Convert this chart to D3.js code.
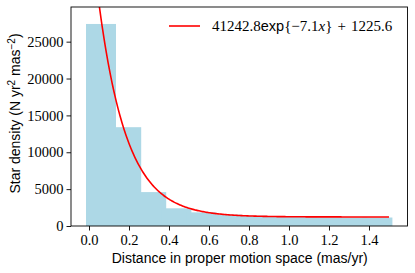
<!DOCTYPE html>
<html>
<head>
<meta charset="utf-8">
<script src="https://cdn.jsdelivr.net/npm/d3@7"></script>
<style>
  body { margin: 0; background: #fff; }
  .tick text { font-family: "Liberation Serif", serif; font-size: 14.5px; fill: #000; }
</style>
</head>
<body>
<div id="chart"></div>
<script>
// histogram bars (bin centre, height)
const binCenters = [0.06, 0.186, 0.311, 0.437, 0.562, 0.688, 0.814, 0.939, 1.065, 1.19, 1.316, 1.442];
const binHeights = [27400, 13400, 4600, 2400, 1850, 1550, 1400, 1300, 1250, 1200, 1150, 1150];
const binWidth = 0.15;

// fitted curve a*exp(b*x)+c, as given in the legend
const fitParams = [41242.8, -7.1, 1225.6];
const fitRange = [0, 1.5];

const xTicks = [0, 0.2, 0.4, 0.6, 0.8, 1.0, 1.2, 1.4];
const yTicks = [0, 5000, 10000, 15000, 20000, 25000];

const width = 415;
const height = 273;
const margin = { top: 7, right: 7.5, bottom: 47, left: 71 };

const x = d3.scaleLinear()
    .domain([-0.09, 1.5925])
    .range([margin.left, width - margin.right]);

const y = d3.scaleLinear()
    .domain([0, 29700])
    .range([height - margin.bottom, margin.top]);

const svg = d3.select("#chart").append("svg")
    .attr("width", width)
    .attr("height", height);

svg.append("defs").append("clipPath").attr("id", "clip")
    .append("rect")
    .attr("x", margin.left).attr("y", margin.top)
    .attr("width", width - margin.left - margin.right)
    .attr("height", height - margin.top - margin.bottom);

const bars = binCenters.map((c, i) => ({ c: c, h: binHeights[i] }));

svg.append("g")
    .attr("fill", "#add8e6")
    .selectAll("rect")
    .data(bars)
    .join("rect")
    .attr("x", d => x(d.c - binWidth / 2))
    .attr("width", d => x(d.c + binWidth / 2) - x(d.c - binWidth / 2))
    .attr("y", d => y(d.h))
    .attr("height", d => y(0) - y(d.h));

const fitX = d3.range(0, 301).map(i => fitRange[0] + (fitRange[1] - fitRange[0]) * i / 300);
const fitLine = d3.line()
    .x(d => x(d))
    .y(d => y(fitParams[0] * Math.exp(fitParams[1] * d) + fitParams[2]));

svg.append("path")
    .datum(fitX)
    .attr("clip-path", "url(#clip)")
    .attr("fill", "none")
    .attr("stroke", "red")
    .attr("stroke-width", 1.6)
    .attr("d", fitLine);

// axes
svg.append("g")
    .attr("transform", `translate(0,${height - margin.bottom})`)
    .call(d3.axisBottom(x).tickValues(xTicks).tickFormat(d3.format(".1f")).tickSize(4.5).tickPadding(4))
    .call(g => g.select(".domain").remove());

svg.append("g")
    .attr("transform", `translate(${margin.left},0)`)
    .call(d3.axisLeft(y).tickValues(yTicks).tickFormat(d3.format("d")).tickSize(4.5).tickPadding(3))
    .call(g => g.select(".domain").remove());

svg.selectAll(".tick line").attr("stroke", "#000").attr("stroke-width", 0.9);

svg.append("rect")
    .attr("x", margin.left).attr("y", margin.top)
    .attr("width", width - margin.left - margin.right)
    .attr("height", height - margin.top - margin.bottom)
    .attr("fill", "none")
    .attr("stroke", "#000")
    .attr("stroke-width", 0.9);

// axis labels
svg.append("text")
    .attr("x", (margin.left + width - margin.right) / 2 + 0.5)
    .attr("y", 263)
    .attr("text-anchor", "middle")
    .style("font-family", "Liberation Sans, sans-serif")
    .style("font-size", "14px")
    .text("Distance in proper motion space (mas/yr)");

const ylab = svg.append("text")
    .attr("transform", `translate(20,${(margin.top + height - margin.bottom) / 2 - 3}) rotate(-90)`)
    .attr("text-anchor", "middle")
    .style("font-family", "Liberation Sans, sans-serif")
    .style("font-size", "14px");
ylab.append("tspan").text("Star density (N yr");
ylab.append("tspan").attr("dy", -5).style("font-size", "10px").text("2");
ylab.append("tspan").attr("dy", 5).text(" mas");
ylab.append("tspan").attr("dy", -5).style("font-size", "10px").text("\u22122");
ylab.append("tspan").attr("dy", 5).text(")");

// legend
const lg = svg.append("g").attr("transform", "translate(169,26)");
lg.append("line")
    .attr("x1", 0).attr("x2", 31)
    .attr("stroke", "red").attr("stroke-width", 1.6);
const lt = lg.append("text")
    .attr("x", 43).attr("y", 5)
    .style("font-family", "Liberation Serif, serif")
    .style("font-size", "15px");
lt.append("tspan").text(fitParams[0].toFixed(1));
lt.append("tspan").style("font-family", "Liberation Sans, sans-serif").style("font-size", "14.5px").text("exp");
lt.append("tspan").text("{\u2212" + Math.abs(fitParams[1]).toFixed(1));
lt.append("tspan").style("font-style", "italic").text("x");
lt.append("tspan").text("}\u2004+\u2004" + fitParams[2].toFixed(1));
</script>
</body>
</html>
